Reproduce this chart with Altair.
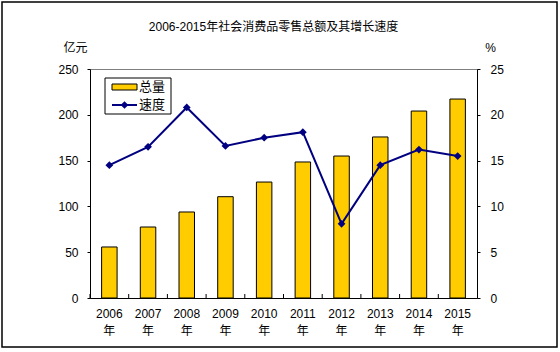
import altair as alt
import pandas as pd

years = ["2006", "2007", "2008", "2009", "2010", "2011", "2012", "2013", "2014", "2015"]
totals = [55.7, 77.5, 93.9, 110.6, 126.6, 148.5, 155.0, 175.8, 204.1, 217.2]
growth = [14.5, 16.5, 20.8, 16.6, 17.5, 18.1, 8.1, 14.5, 16.2, 15.5]

title_text = "2006-2015年社会消费品零售总额及其增长速度"
left_title = "亿元"
right_title = "%"
legend_labels = ["总量", "速度"]

FONT = "Liberation Sans, Arial, 'Noto Sans CJK SC'"
BAR = "#FFCC00"
LINE = "#000080"
W, H = 387, 229

df = pd.DataFrame({"year": years, "total": totals, "growth": growth})
one = pd.DataFrame({"k": [0]})

xenc = alt.X(
    "year:N",
    sort=years,
    scale=alt.Scale(paddingInner=0.6, paddingOuter=0.3),
    axis=alt.Axis(
        title=None, ticks=False, domainColor="black", labelAngle=0,
        labelExpr="[datum.label, '年']", labelLineHeight=17, labelPadding=10,
        labelFontSize=12, labelColor="black", labelFont=FONT,
    ),
)

bars = alt.Chart(df).mark_bar(color=BAR, stroke="black", strokeWidth=1).encode(
    x=xenc,
    y=alt.Y(
        "total:Q",
        scale=alt.Scale(domain=[0, 250]),
        axis=alt.Axis(
            values=[0, 50, 100, 150, 200, 250], grid=False, domainColor="black",
            tickColor="black", tickSize=3, labelPadding=9, labelFontSize=12,
            labelColor="black", labelFont=FONT,
            title=left_title, titleAngle=0, titleX=-15, titleY=-22,
            titleAlign="center", titleBaseline="middle", titleFontWeight="normal",
            titleFontSize=12, titleFont=FONT, titleColor="black",
        ),
    ),
)

line = alt.Chart(df).mark_line(
    color=LINE, strokeWidth=2,
    point=alt.OverlayMarkDef(shape="diamond", filled=True, color=LINE, size=60),
).encode(
    x=alt.X("year:N", sort=years),
    y=alt.Y(
        "growth:Q",
        scale=alt.Scale(domain=[0, 25]),
        axis=alt.Axis(
            orient="right", values=[0, 5, 10, 15, 20, 25], grid=False,
            domainColor="black", tickColor="black", tickSize=3, labelPadding=10,
            labelFontSize=12, labelColor="black", labelFont=FONT,
            title=right_title, titleAngle=0, titleX=13, titleY=-22,
            titleAlign="center", titleBaseline="middle", titleFontWeight="normal",
            titleFontSize=12, titleFont=FONT, titleColor="black",
        ),
    ),
)

ticks = alt.Chart(df).mark_rule(color="black", xOffset=-0.3 * W / 10).encode(
    x=alt.X("year:N", sort=years, bandPosition=0),
    y=alt.value(H), y2=alt.value(H - 4),
)

legend_box = alt.Chart(one).mark_rect(fill="white", stroke="black", strokeWidth=1).encode(
    x=alt.value(15), x2=alt.value(81), y=alt.value(9), y2=alt.value(45)
)
legend_bar = alt.Chart(one).mark_rect(fill=BAR, stroke="black", strokeWidth=1).encode(
    x=alt.value(22), x2=alt.value(47), y=alt.value(15), y2=alt.value(21)
)
legend_line = alt.Chart(one).mark_rule(color=LINE, strokeWidth=2).encode(
    x=alt.value(22), x2=alt.value(47), y=alt.value(36)
)
legend_pt = alt.Chart(one).mark_point(shape="diamond", filled=True, color=LINE, size=60, opacity=1).encode(
    x=alt.value(34.5), y=alt.value(36)
)
legend_text1 = alt.Chart(one).mark_text(
    align="left", baseline="middle", fontSize=13, font=FONT, color="black", text=legend_labels[0]
).encode(x=alt.value(49), y=alt.value(18))
legend_text2 = alt.Chart(one).mark_text(
    align="left", baseline="middle", fontSize=13, font=FONT, color="black", text=legend_labels[1]
).encode(x=alt.value(49), y=alt.value(36))

title = alt.Chart(one).mark_text(
    align="center", baseline="middle", fontSize=12, font=FONT, color="black", text=title_text
).encode(x=alt.value(183.5), y=alt.value(-42))

frame = alt.Chart(one).mark_rect(filled=False, stroke="black", strokeWidth=1.5).encode(
    x=alt.value(-88), x2=alt.value(467), y=alt.value(-67), y2=alt.value(278)
)

chart = alt.layer(
    bars, line, ticks, legend_box, legend_bar, legend_line, legend_pt,
    legend_text1, legend_text2, title, frame,
).resolve_scale(y="independent").properties(
    width=W, height=H,
    autosize=alt.AutoSizeParams(type="none"),
    padding={"left": 90, "top": 69, "right": 83, "bottom": 54},
    background="white",
).configure_view(stroke="#808080", strokeWidth=1)

chart.save("out.html", embed_options={"renderer": "svg", "actions": False})
